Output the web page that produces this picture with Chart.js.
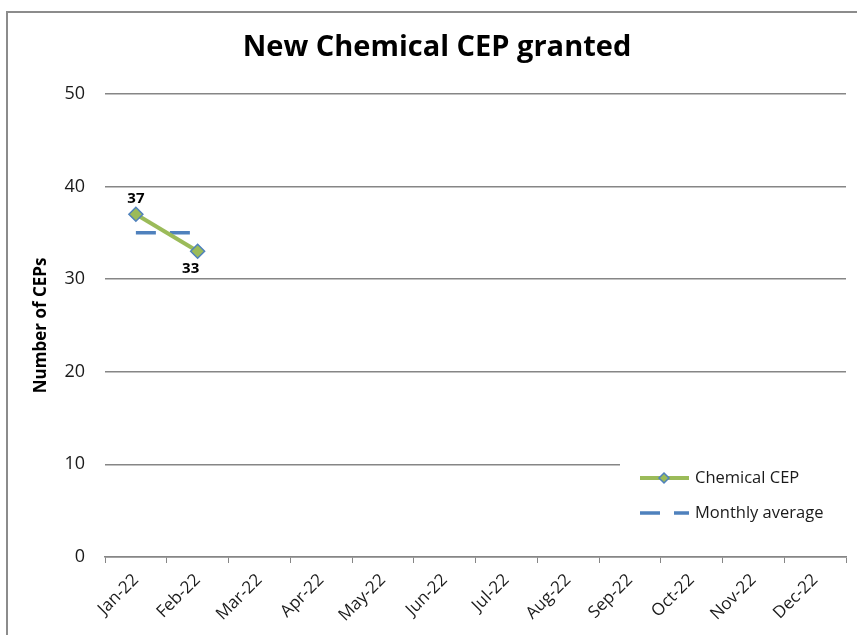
<!DOCTYPE html>
<html lang="en">
<head>
    <meta charset="UTF-8">
    <title>New Chemical CEP granted</title>
    <script src="https://cdn.jsdelivr.net/npm/chart.js"></script>
    <style>
        html, body { margin: 0; padding: 0; background: #fff; }
        #wrap { width: 857px; height: 635px; }
    </style>
</head>
<body>
    <div id="wrap"><canvas id="cepChart" width="857" height="635"></canvas></div>
    <script>
        const months = ['Jan-22', 'Feb-22', 'Mar-22', 'Apr-22', 'May-22', 'Jun-22',
                        'Jul-22', 'Aug-22', 'Sep-22', 'Oct-22', 'Nov-22', 'Dec-22'];
        const chemicalCep = [37, 33, null, null, null, null, null, null, null, null, null, null];
        const monthlyAverage = [35, 35, null, null, null, null, null, null, null, null, null, null];
        const yTicks = [0, 10, 20, 30, 40, 50];

        const FONT = "'Open Sans', sans-serif";
        const GREEN = '#9BBB59';
        const BLUE = '#4F81BD';

        // frame, point labels and the legend box sitting on the plot
        const extras = {
            id: 'extras',
            afterDraw(chart) {
                const ctx = chart.ctx;
                ctx.save();
                ctx.strokeStyle = '#8c8c8c';
                ctx.lineWidth = 2;
                ctx.strokeRect(7, 12, 900, 700);

                // labels on the Chemical CEP points
                const meta = chart.getDatasetMeta(0);
                ctx.fillStyle = '#000';
                ctx.font = 'bold 15px ' + FONT;
                ctx.textAlign = 'center';
                ctx.textBaseline = 'middle';
                meta.data.forEach((pt, i) => {
                    const v = chemicalCep[i];
                    if (v == null) return;
                    const below = i > 0 && v < chemicalCep[i - 1];
                    ctx.fillText(String(v), pt.x + (below ? -7 : 0), pt.y + (below ? 17 : -15));
                });

                // legend
                ctx.fillStyle = '#fff';
                ctx.fillRect(620, 460, 226, 76);
                const items = [
                    { text: 'Chemical CEP', ds: chart.data.datasets[0], y: 478 },
                    { text: 'Monthly average', ds: chart.data.datasets[1], y: 513 }
                ];
                items.forEach(it => {
                    ctx.beginPath();
                    ctx.strokeStyle = it.ds.borderColor;
                    ctx.lineWidth = it.ds.borderWidth;
                    ctx.setLineDash(it.ds.borderDash || []);
                    ctx.moveTo(640, it.y);
                    ctx.lineTo(689, it.y);
                    ctx.stroke();
                    ctx.setLineDash([]);
                    if (it.ds.pointRadius) {
                        ctx.beginPath();
                        ctx.moveTo(664, it.y - 5);
                        ctx.lineTo(669, it.y);
                        ctx.lineTo(664, it.y + 5);
                        ctx.lineTo(659, it.y);
                        ctx.closePath();
                        ctx.fillStyle = it.ds.pointBackgroundColor;
                        ctx.fill();
                        ctx.strokeStyle = it.ds.pointBorderColor;
                        ctx.lineWidth = 1.5;
                        ctx.stroke();
                    }
                    ctx.fillStyle = '#1a1a1a';
                    ctx.font = '16.5px ' + FONT;
                    ctx.textAlign = 'left';
                    ctx.fillText(it.text, 695, it.y);
                });
                ctx.restore();
            }
        };

        new Chart(document.getElementById('cepChart'), {
            type: 'line',
            data: {
                labels: months,
                datasets: [
                    {
                        label: 'Chemical CEP',
                        data: chemicalCep,
                        borderColor: GREEN,
                        borderWidth: 4,
                        pointStyle: 'rectRot',
                        pointRadius: 7,
                        pointBackgroundColor: GREEN,
                        pointBorderColor: BLUE,
                        pointBorderWidth: 1.5,
                        spanGaps: false
                    },
                    {
                        label: 'Monthly average',
                        data: monthlyAverage,
                        borderColor: BLUE,
                        borderWidth: 3.5,
                        borderDash: [20, 14],
                        pointRadius: 0,
                        spanGaps: false
                    }
                ]
            },
            options: {
                responsive: false,
                animation: false,
                layout: { padding: { left: 28, right: 11, top: 0, bottom: 0 } },
                plugins: {
                    legend: { display: false },
                    tooltip: { enabled: false },
                    title: {
                        display: true,
                        text: 'New Chemical CEP granted',
                        color: '#000',
                        font: { family: FONT, size: 29, weight: 'bold' },
                        padding: { top: 30, bottom: 29 }
                    }
                },
                scales: {
                    x: {
                        offset: true,
                        grid: {
                            display: true,
                            offset: true,
                            drawOnChartArea: false,
                            drawTicks: true,
                            tickLength: 6,
                            color: '#868686'
                        },
                        border: { display: true, color: '#868686', width: 1.5 },
                        ticks: {
                            color: '#1a1a1a',
                            font: { family: FONT, size: 17 },
                            maxRotation: 45,
                            minRotation: 45,
                            autoSkip: false,
                            padding: 7
                        },
                        afterFit(scale) { scale.height = 78; }
                    },
                    y: {
                        min: 0,
                        max: 50,
                        afterBuildTicks(scale) { scale.ticks = yTicks.map(v => ({ value: v })); },
                        grid: { color: '#868686', lineWidth: 1.5, drawTicks: false },
                        border: { display: false },
                        ticks: {
                            color: '#1a1a1a',
                            font: { family: FONT, size: 18 },
                            padding: 20
                        },
                        title: {
                            display: true,
                            text: 'Number of CEPs',
                            color: '#000',
                            font: { family: FONT, size: 17, weight: 'bold' },
                            padding: { top: 3, bottom: 0 }
                        },
                        afterFit(scale) { scale.width = 77; }
                    }
                }
            },
            plugins: [extras]
        });
    </script>
</body>
</html>
